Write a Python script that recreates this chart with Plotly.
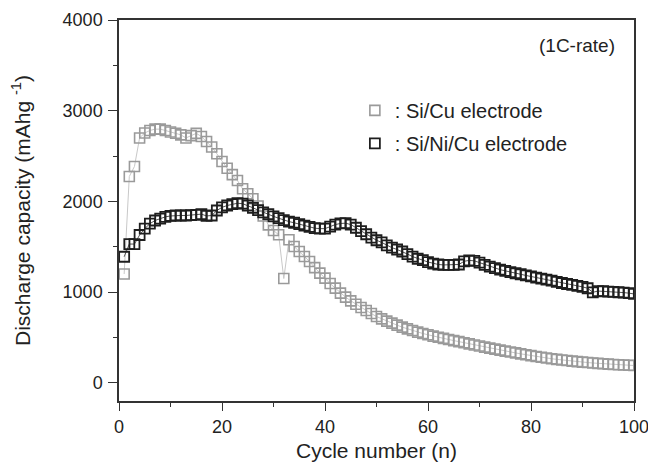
import plotly.graph_objects as go

cycles = list(range(1, 101))

si_cu = [1200, 2275, 2385, 2700, 2755, 2782, 2797, 2797, 2782, 2765,
         2752, 2734, 2700, 2725, 2750, 2716, 2660, 2600, 2525, 2440,
         2365, 2295, 2230, 2140, 2085, 2030, 1950, 1840, 1742, 1680,
         1632, 1150, 1577, 1503, 1448, 1393, 1338, 1270, 1210, 1154,
         1095, 1044, 989, 945, 904, 867, 831, 797, 764, 731,
         705, 680, 658, 636, 614, 595, 577, 559, 544, 530,
         515, 502, 490, 478, 466, 454, 442, 430, 418, 406,
         394, 383, 372, 361, 350, 340, 330, 320, 310, 300,
         291, 282, 274, 266, 259, 252, 246, 240, 234, 229,
         224, 219, 215, 211, 207, 203, 200, 197, 194, 191]

si_ni_cu = [1390, 1530, 1530, 1630, 1700, 1755, 1790, 1810, 1830, 1840,
            1845, 1845, 1845, 1848, 1852, 1860, 1840, 1845, 1900, 1935,
            1955, 1970, 1980, 1975, 1955, 1930, 1905, 1880, 1860, 1835,
            1815, 1795, 1778, 1765, 1750, 1733, 1720, 1705, 1700, 1700,
            1722, 1745, 1757, 1760, 1745, 1710, 1673, 1638, 1600, 1572,
            1548, 1515, 1490, 1470, 1448, 1420, 1392, 1368, 1352, 1332,
            1315, 1305, 1300, 1300, 1300, 1305, 1340, 1350, 1345, 1325,
            1300, 1282, 1265, 1248, 1235, 1220, 1208, 1197, 1184, 1173,
            1161, 1149, 1137, 1126, 1113, 1101, 1090, 1080, 1068, 1058,
            1043, 998, 1012, 1010, 1006, 1003, 999, 995, 989, 980]

names = [": Si/Cu electrode", ": Si/Ni/Cu electrode"]
y_ticks = [0, 1000, 2000, 3000, 4000]
x_ticks = [0, 20, 40, 60, 80, 100]

FONT = "Liberation Sans, Arial, sans-serif"
TXT = "#222222"

fig = go.Figure()

# connecting thin lines
fig.add_trace(go.Scatter(x=cycles, y=si_cu, mode="lines",
                         line=dict(color="#c8c8c8", width=1),
                         showlegend=False, hoverinfo="skip"))
fig.add_trace(go.Scatter(x=cycles, y=si_ni_cu, mode="lines",
                         line=dict(color="#555555", width=1),
                         showlegend=False, hoverinfo="skip"))

fig.add_trace(go.Scatter(x=cycles, y=si_cu, mode="markers", name=names[0],
                         legendgroup="a",
                         marker=dict(symbol="square-open", size=10,
                                     color="#9a9a9a", line=dict(width=1.6, color="#9a9a9a"))))
fig.add_trace(go.Scatter(x=cycles, y=si_ni_cu, mode="markers", name=names[1],
                         legendgroup="b",
                         marker=dict(symbol="square-open", size=10,
                                     color="#1e1e1e", line=dict(width=1.8, color="#1e1e1e"))))

fig.update_layout(
    width=648, height=462,
    margin=dict(l=119, r=14, t=20, b=61),
    paper_bgcolor="white", plot_bgcolor="white",
    font=dict(family=FONT, size=18, color=TXT),
    showlegend=True,
    legend=dict(x=0.458, y=0.814, xanchor="left", yanchor="top",
                bgcolor="rgba(0,0,0,0)", font=dict(size=20, color=TXT),
                tracegroupgap=4, itemwidth=30),
    annotations=[dict(text="(1C-rate)", xref="paper", yref="paper",
                      x=0.967, y=0.932, xanchor="right", yanchor="middle",
                      showarrow=False, font=dict(size=19, color=TXT))],
)

fig.update_xaxes(range=[0, 100], tickvals=x_ticks, ticks="outside", ticklen=8,
                 tickwidth=1.3, tickcolor="#333", showline=True, linecolor="#333",
                 linewidth=1.5, mirror=True, showgrid=False, zeroline=False,
                 ticklabelstandoff=1, ticklabeloverflow="allow", automargin=False,
                 minor=dict(dtick=10, tick0=0, ticks="outside", ticklen=4,
                            tickwidth=1.3, tickcolor="#333"),
                 title=dict(text="Cycle number (n)", font=dict(size=21, color=TXT)))
fig.update_yaxes(range=[-200, 4000], tickvals=y_ticks, ticks="outside", ticklen=9,
                 tickwidth=1.3, tickcolor="#333", showline=True, linecolor="#333",
                 linewidth=1.5, mirror=True, showgrid=False, zeroline=False,
                 ticklabelstandoff=2, automargin=False,
                 minor=dict(dtick=500, tick0=0, ticks="outside", ticklen=4,
                            tickwidth=1.3, tickcolor="#333"),
                 title=dict(text="Discharge capacity (mAhg <sup>-1</sup>)",
                            font=dict(size=21, color=TXT), standoff=26))

fig.write_html("out.html")
